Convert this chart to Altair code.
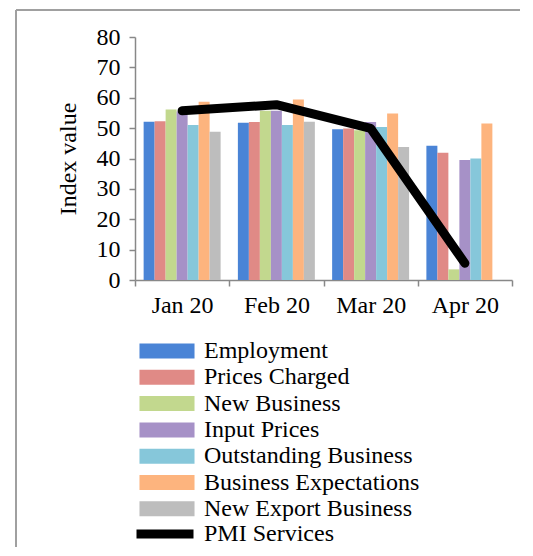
import altair as alt
import pandas as pd

months = ["Jan 20", "Feb 20", "Mar 20", "Apr 20"]
series = ["Employment", "Prices Charged", "New Business", "Input Prices",
          "Outstanding Business", "Business Expectations", "New Export Business"]
colors = ["#4a84d6", "#e08a86", "#c2d88e", "#a691c7", "#86c7da", "#fdb47e", "#bdbdbd"]

employment = [52.1, 51.8, 49.6, 44.2]
prices_charged = [52.3, 52.0, 49.9, 41.9]
new_business = [56.1, 55.7, 49.3, 3.5]
input_prices = [55.5, 55.7, 52.0, 39.5]
outstanding_business = [51.0, 51.0, 50.4, 40.0]
business_expectations = [58.7, 59.4, 54.8, 51.5]
new_export_business = [48.8, 52.1, 43.8, None]

pmi_label = "PMI Services"
pmi_services = [55.7, 57.7, 49.9, 5.5]

y_ticks = [0, 10, 20, 30, 40, 50, 60, 70, 80]

series_values = [employment, prices_charged, new_business, input_prices,
                 outstanding_business, business_expectations, new_export_business]

rows = []
for s, vals in zip(series, series_values):
    for m, v in zip(months, vals):
        if v is not None:
            rows.append({"month": m, "series": s, "value": v})
bar_df = pd.DataFrame(rows)
line_df = pd.DataFrame({"month": months, "series": pmi_label, "value": pmi_services})

FONT = "Liberation Serif"
FS = 24

x_enc = alt.X(
    "month:N", sort=months,
    scale=alt.Scale(domain=months, paddingInner=0, paddingOuter=0),
    axis=alt.Axis(title=None, labelAngle=0, tickBand="extent", labelFont=FONT,
                  labelFontSize=FS, labelColor="#000", labelPadding=7,
                  domainColor="#888", tickColor="#888", tickSize=6, domainWidth=1.5, tickWidth=1.5),
)
y_enc = alt.Y(
    "value:Q",
    scale=alt.Scale(domain=[0, 80], nice=False),
    axis=alt.Axis(title="Index value", values=y_ticks, grid=False, labelFont=FONT,
                  labelFontSize=FS, labelColor="#000", labelPadding=9,
                  titleFont=FONT, titleFontSize=FS, titleFontWeight="normal",
                  titleColor="#000", titlePadding=16,
                  domainColor="#888", tickColor="#888", tickSize=6, domainWidth=1.5, tickWidth=1.5),
)

bars = alt.Chart(bar_df).mark_bar(strokeWidth=0).encode(
    x=x_enc,
    xOffset=alt.XOffset("series:N", sort=series,
                        scale=alt.Scale(domain=series, paddingInner=0, paddingOuter=0.785)),
    y=y_enc,
    fill=alt.Fill("series:N", sort=series,
                  scale=alt.Scale(domain=series, range=colors),
                  legend=alt.Legend(title=None, orient="none", legendX=20, legendY=302,
                                    symbolType="M-3.67,-1H3.67V1H-3.67Z", symbolSize=225,
                                    symbolStrokeWidth=0, symbolOpacity=1,
                                    labelFont=FONT, labelFontSize=FS, labelColor="#000",
                                    labelOffset=25, padding=0,
                                    labelLimit=400)),
)

line = alt.Chart(line_df).mark_line(strokeWidth=9, strokeCap="round", strokeJoin="round").encode(
    x=x_enc,
    y=y_enc,
    stroke=alt.Stroke("series:N", scale=alt.Scale(domain=[pmi_label], range=["#000"]),
                      legend=alt.Legend(title=None, orient="none", legendX=18, legendY=485,
                                        symbolType="M-3.8,0H3.8", symbolSize=225,
                                        symbolStrokeWidth=9, symbolStrokeColor="#000",
                                        labelFont=FONT, labelFontSize=FS, labelColor="#000",
                                        labelOffset=27, padding=0, labelLimit=400)),
)

frame_df = pd.DataFrame({"k": [0]})
frame_left = alt.Chart(frame_df).mark_rule(color="#a0a0a0", strokeWidth=2).encode(
    x=alt.value(-119), y=alt.value(-27), y2=alt.value(560))
frame_top = alt.Chart(frame_df).mark_rule(color="#a0a0a0", strokeWidth=2).encode(
    x=alt.value(-119), x2=alt.value(385), y=alt.value(-27))

chart = alt.layer(frame_left, frame_top, bars, line).properties(
    width=377, height=243,
    autosize=alt.AutoSizeParams(type="none"),
    padding={"left": 127, "top": 29, "right": 10, "bottom": 267},
    background="#ffffff",
).configure_view(stroke=None).configure_legend(rowPadding=2.3)

chart.save("out.html", embed_options={"renderer": "svg", "actions": False})
